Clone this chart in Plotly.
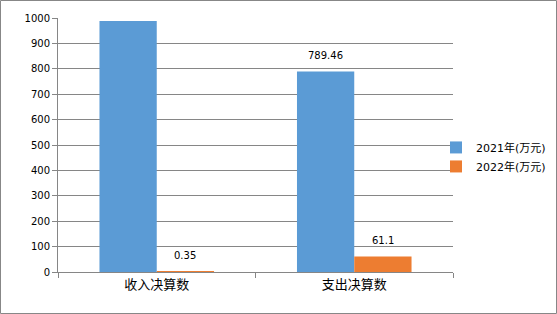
import plotly.graph_objects as go

categories = ["收入决算数", "支出决算数"]
series_names = ["2021年(万元)", "2022年(万元)"]
values_2021 = [988, 789.46]
values_2022 = [0.35, 61.1]
labels_2021 = ["", "789.46"]
labels_2022 = ["0.35", "61.1"]
y_ticks = [0, 100, 200, 300, 400, 500, 600, 700, 800, 900, 1000]

colors = ["#5B9BD5", "#ED7D31"]
font_family = "DejaVu Sans, Noto Sans CJK SC, sans-serif"

W, H = 557, 314
ml, mr, mt, mb = 58, 104, 18, 42
pw, ph = W - ml - mr, H - mt - mb

fig = go.Figure()
for name, vals, col in zip(series_names, [values_2021, values_2022], colors):
    fig.add_trace(go.Bar(x=categories, y=vals, name=name, marker_color=col,
                         marker_line_width=0))

# data labels as annotations placed above bars
bar_px = pw / len(categories) * (1 - 0.42) / 2
for si, (vals, labs) in enumerate(zip([values_2021, values_2022], [labels_2021, labels_2022])):
    for cat, v, lab in zip(categories, vals, labs):
        if not lab:
            continue
        fig.add_annotation(x=cat, y=v, text=lab, showarrow=False,
                           xshift=(si - 0.5) * bar_px, yshift=16,
                           font=dict(family=font_family, size=10, color="#000000"))

fig.update_layout(
    width=W, height=H,
    margin=dict(l=ml, r=mr, t=mt, b=mb, autoexpand=False),
    paper_bgcolor="white", plot_bgcolor="white",
    barmode="group", bargap=0.42, bargroupgap=0,
    font=dict(family=font_family, size=10, color="#000000"),
    showlegend=True,
    legend=dict(x=0.957, xanchor="left", y=0.453, yanchor="middle",
                font=dict(family=font_family, size=11, color="#000000"),
                bgcolor="rgba(0,0,0,0)", itemwidth=30),
    xaxis=dict(showline=True, linecolor="#868686", linewidth=1,
               ticks="outside", tickson="boundaries", ticklen=5, tickcolor="#868686",
               tickfont=dict(family=font_family, size=13, color="#000000"),
               showgrid=False, fixedrange=True),
    yaxis=dict(range=[0, 1000], tickvals=y_ticks, showline=True, linecolor="#868686",
               linewidth=1, ticks="outside", ticklen=5, tickcolor="#868686",
               showgrid=True, gridcolor="#868686", gridwidth=1, zeroline=False,
               tickfont=dict(family=font_family, size=10, color="#000000")),
    shapes=[dict(type="rect", xref="paper", yref="paper",
                 x0=(-ml + 0.5) / pw, x1=1 + (mr - 0.5) / pw,
                 y0=(-mb + 0.5) / ph, y1=1 + (mt - 0.5) / ph,
                 line=dict(color="#878787", width=1), layer="above")],
)

fig.write_html("out.html")
